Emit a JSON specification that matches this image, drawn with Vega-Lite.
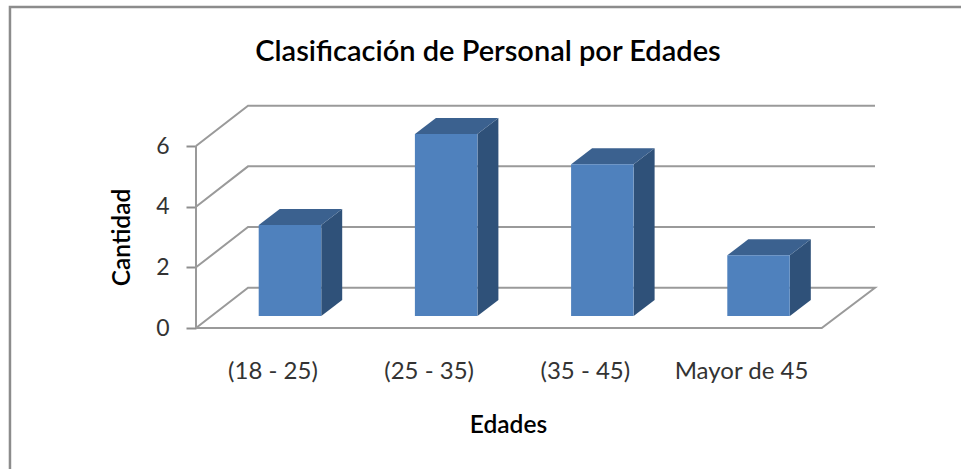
{
"$schema":"https://vega.github.io/schema/vega-lite/v6.json",
"width":684,"height":182,
"autosize":{"type":"none"},
"padding":{"left":196,"top":146,"right":81,"bottom":141},
"background":"white",
"view":{"stroke":null},
"title":{"text":"Clasificación de Personal por Edades","font":"Lato","fontSize":29,"fontWeight":600,"color":"#000000","anchor":"middle","frame":"group","dx":-50,"offset":-65},
"datasets":{
"marco":[{"x":-1.684,"y":-4.649,"o":1},{"x":-1.684,"y":10.583,"o":2},{"x":4.405,"y":10.583,"o":3}],
"rejilla":[
{"s":"v2","x":-0.493,"y":2,"o":1},{"s":"v2","x":-0.16,"y":3.329,"o":2},{"s":"v2","x":3.854,"y":3.329,"o":3},
{"s":"v4","x":-0.493,"y":4,"o":1},{"s":"v4","x":-0.16,"y":5.329,"o":2},{"s":"v4","x":3.854,"y":5.329,"o":3},
{"s":"v6","x":-0.493,"y":6,"o":1},{"s":"v6","x":-0.16,"y":7.329,"o":2},{"s":"v6","x":3.854,"y":7.329,"o":3},
{"s":"piso","x":-0.493,"y":0,"o":1},{"s":"piso","x":-0.16,"y":1.329,"o":2},{"s":"piso","x":3.854,"y":1.329,"o":3},{"s":"piso","x":3.513,"y":0,"o":4},{"s":"piso","x":-0.493,"y":0,"o":5},
{"s":"eje","x":-0.493,"y":0,"o":1},{"s":"eje","x":-0.493,"y":6,"o":2}
],
"lado":[
{"c":"(18 - 25)","x":0.309,"y":3.396,"y2":0.396},{"c":"(18 - 25)","x":0.443,"y":3.924,"y2":0.924},
{"c":"(25 - 35)","x":1.309,"y":6.396,"y2":0.396},{"c":"(25 - 35)","x":1.443,"y":6.924,"y2":0.924},
{"c":"(35 - 45)","x":2.309,"y":5.396,"y2":0.396},{"c":"(35 - 45)","x":2.443,"y":5.924,"y2":0.924},
{"c":"Mayor de 45","x":3.309,"y":2.396,"y2":0.396},{"c":"Mayor de 45","x":3.443,"y":2.924,"y2":0.924}
],
"tapa":[
{"c":"(18 - 25)","x":-0.091,"y":3.396,"y2":3.396},{"c":"(18 - 25)","x":0.043,"y":3.924,"y2":3.396},{"c":"(18 - 25)","x":0.309,"y":3.924,"y2":3.396},{"c":"(18 - 25)","x":0.443,"y":3.924,"y2":3.924},
{"c":"(25 - 35)","x":0.909,"y":6.396,"y2":6.396},{"c":"(25 - 35)","x":1.043,"y":6.924,"y2":6.396},{"c":"(25 - 35)","x":1.309,"y":6.924,"y2":6.396},{"c":"(25 - 35)","x":1.443,"y":6.924,"y2":6.924},
{"c":"(35 - 45)","x":1.909,"y":5.396,"y2":5.396},{"c":"(35 - 45)","x":2.043,"y":5.924,"y2":5.396},{"c":"(35 - 45)","x":2.309,"y":5.924,"y2":5.396},{"c":"(35 - 45)","x":2.443,"y":5.924,"y2":5.924},
{"c":"Mayor de 45","x":2.909,"y":2.396,"y2":2.396},{"c":"Mayor de 45","x":3.043,"y":2.924,"y2":2.396},{"c":"Mayor de 45","x":3.309,"y":2.924,"y2":2.396},{"c":"Mayor de 45","x":3.443,"y":2.924,"y2":2.924}
],
"barras":[
{"Edades":"(18 - 25)","Cantidad":3},
{"Edades":"(25 - 35)","Cantidad":6},
{"Edades":"(35 - 45)","Cantidad":5},
{"Edades":"Mayor de 45","Cantidad":2}
]},
"layer":[
{"data":{"name":"marco"},
"mark":{"type":"line","color":"#8c8c8c","strokeWidth":2.5,"clip":false},
"encoding":{
"x":{"field":"x","type":"quantitative","scale":{"domain":[-0.493,3.886],"nice":false,"zero":false},"axis":null},
"y":{"field":"y","type":"quantitative","scale":{"domain":[0,6],"nice":false,"zero":false},"axis":null},
"order":{"field":"o","type":"quantitative"}}},
{"data":{"name":"rejilla"},
"mark":{"type":"line","color":"#9a9a9a","strokeWidth":2,"strokeJoin":"miter","clip":false},
"encoding":{
"x":{"field":"x","type":"quantitative","scale":{"domain":[-0.493,3.886],"nice":false,"zero":false},"axis":null},
"y":{"field":"y","type":"quantitative","scale":{"domain":[0,6],"nice":false,"zero":false},
"axis":{"orient":"left","values":[0,2,4,6],"title":"Cantidad","grid":false,"domain":false,"tickSize":10,"tickColor":"#8e8e8e","tickWidth":2,"labelFont":"Lato","labelFontSize":23,"labelColor":"#333333","labelPadding":17,"titleFont":"Lato","titleFontSize":24.5,"titleFontWeight":600,"titleColor":"#000000","titlePadding":21}},
"detail":{"field":"s"},
"order":{"field":"o","type":"quantitative"}}},
{"data":{"name":"lado"},
"mark":{"type":"area","color":"#2f5179","clip":false},
"encoding":{
"x":{"field":"x","type":"quantitative","scale":{"domain":[-0.493,3.886],"nice":false,"zero":false},"axis":null},
"y":{"field":"y","type":"quantitative","stack":null,"scale":{"domain":[0,6],"nice":false,"zero":false},"axis":null},
"y2":{"field":"y2"},
"detail":{"field":"c"}}},
{"data":{"name":"tapa"},
"mark":{"type":"area","color":"#3b618f","clip":false},
"encoding":{
"x":{"field":"x","type":"quantitative","scale":{"domain":[-0.493,3.886],"nice":false,"zero":false},"axis":null},
"y":{"field":"y","type":"quantitative","stack":null,"scale":{"domain":[0,6],"nice":false,"zero":false},"axis":null},
"y2":{"field":"y2"},
"detail":{"field":"c"}}},
{"data":{"name":"barras"},
"mark":{"type":"bar","color":"#4f81bd","clip":false},
"encoding":{
"x":{"field":"Edades","type":"nominal","sort":null,"scale":{"type":"band","paddingInner":0.6,"paddingOuter":0.4895,"align":0.41},
"axis":{"orient":"bottom","labelAngle":0,"labelOffset":-17,"domain":false,"ticks":false,"labelFont":"Lato","labelFontSize":24,"labelColor":"#333333","labelPadding":31,"title":"Edades","titleFont":"Lato","titleFontSize":24.5,"titleFontWeight":600,"titleColor":"#000000","titleX":312,"titleY":85}},
"y":{"field":"Cantidad","type":"quantitative","stack":null,"scale":{"domain":[-0.396,5.604],"nice":false,"zero":false},"axis":null}}}
],
"resolve":{"scale":{"x":"independent","y":"independent"},"axis":{"x":"independent","y":"independent"}}
}
